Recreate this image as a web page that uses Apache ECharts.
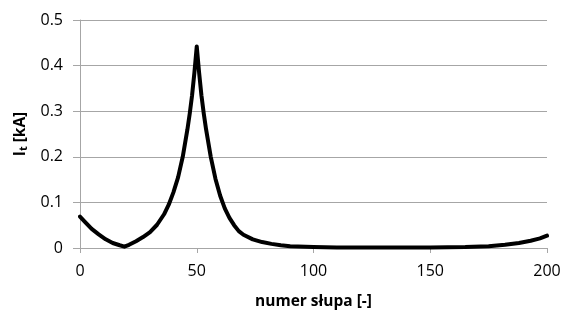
<!DOCTYPE html>
<html>
<head>
    <meta charset="utf-8">
    <script src="https://cdn.jsdelivr.net/npm/echarts@6/dist/echarts.min.js"></script>
    <style>
        html, body { margin: 0; padding: 0; background: #fff; }
    </style>
</head>
<body>
    <div id="main" style="width: 574px;height:313px;"></div>
    <script type="text/javascript">
        // numer słupa
        var slup = [0, 2, 5, 8, 11, 14, 17, 19, 21, 24, 27, 30, 33, 36, 38, 40, 42, 44, 46, 47, 48, 49, 50,
                    51, 52, 53, 54, 56, 58, 60, 62, 64, 66, 68, 70, 74, 78, 82, 86, 90, 100, 110, 130, 150,
                    165, 175, 182, 188, 193, 197, 200];
        // I_t [kA]
        var prad = [0.069, 0.058, 0.042, 0.030, 0.019, 0.011, 0.006, 0.003, 0.007, 0.015, 0.024, 0.035, 0.051,
                    0.074, 0.095, 0.122, 0.155, 0.200, 0.260, 0.295, 0.335, 0.385, 0.442,
                    0.385, 0.335, 0.295, 0.260, 0.200, 0.152, 0.115, 0.087, 0.066, 0.050, 0.037, 0.029,
                    0.019, 0.013, 0.009, 0.006, 0.004, 0.002, 0.001, 0.001, 0.001,
                    0.002, 0.004, 0.007, 0.011, 0.016, 0.021, 0.027];

        var xTicks = [0, 50, 100, 150, 200];
        var yTicks = [0, 0.1, 0.2, 0.3, 0.4, 0.5];

        var points = [];
        for (var i = 0; i < slup.length; i++) {
            points.push([slup[i], prad[i]]);
        }

        var font = 'Open Sans';
        var gridColor = '#a6a6a6';

        var option = {
            animation: false,
            grid: {
                left: 80,
                right: 27,
                top: 20,
                bottom: 65,
                outerBoundsMode: 'none'
            },
            xAxis: {
                type: 'value',
                min: xTicks[0],
                max: xTicks[xTicks.length - 1],
                interval: 50,
                name: 'numer słupa [-]',
                nameLocation: 'middle',
                nameGap: 46,
                nameTextStyle: {
                    fontFamily: font,
                    fontWeight: 'bold',
                    fontSize: 15.5,
                    color: '#000'
                },
                axisLine: {show: true, lineStyle: {color: gridColor, width: 1}},
                axisTick: {show: true, length: 5, lineStyle: {color: gridColor}},
                axisLabel: {
                    margin: 15,
                    fontFamily: font,
                    fontSize: 16,
                    color: '#000'
                },
                splitLine: {show: false}
            },
            yAxis: {
                type: 'value',
                min: yTicks[0],
                max: yTicks[yTicks.length - 1],
                interval: 0.1,
                name: '{b|I}{s|t}{b| [kA]}',
                nameLocation: 'middle',
                nameGap: 50,
                nameRotate: 90,
                nameTextStyle: {
                    rich: {
                        b: {fontFamily: font, fontWeight: 'bold', fontSize: 15.5, color: '#000'},
                        s: {fontFamily: font, fontWeight: 'bold', fontSize: 11, color: '#000', verticalAlign: 'bottom', padding: [7, 0, 0, 0]}
                    }
                },
                axisLine: {show: true, lineStyle: {color: gridColor, width: 1}},
                axisTick: {show: true, length: 7, lineStyle: {color: gridColor}},
                axisLabel: {
                    margin: 17,
                    fontFamily: font,
                    fontSize: 16,
                    color: '#000',
                    formatter: function (v) { return String(+v.toFixed(1)); }
                },
                splitLine: {show: true, lineStyle: {color: gridColor, width: 1}}
            },
            series: [
                {
                    type: 'line',
                    data: points,
                    showSymbol: false,
                    smooth: false,
                    lineStyle: {color: '#000', width: 4, join: 'round', cap: 'round'},
                    itemStyle: {color: '#000'}
                }
            ]
        };

        var myChart = echarts.init(document.getElementById('main'));
        myChart.setOption(option);
    </script>
</body>
</html>
